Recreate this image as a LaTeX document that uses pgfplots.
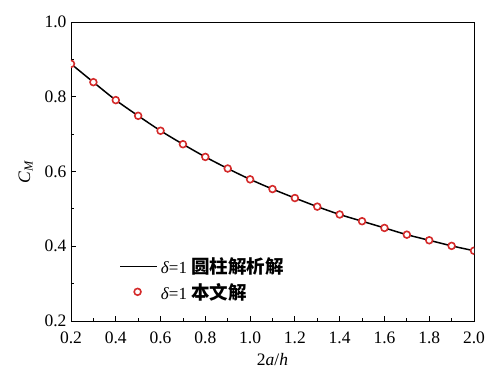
\documentclass[border=0pt]{standalone}
\usepackage{fontspec}
\setmainfont{Liberation Serif}
\newfontfamily\cjk{Noto Sans CJK SC}
\usepackage{pgfplots}
\pgfplotsset{compat=1.18}
\definecolor{mkred}{HTML}{D42A2A}
\begin{document}
\begin{tikzpicture}
\begin{axis}[
  at={(0,0)}, anchor=south west,
  scale only axis, width=403pt, height=299pt,
  xmin=0.2, xmax=2.0, ymin=0.2, ymax=1.0,
  xtick={0.2,0.4,...,2.01}, ytick={0.2,0.4,...,1.01},
  minor xtick={0.3,0.5,...,1.91}, minor ytick={0.3,0.5,0.7,0.9},
  xticklabel style={yshift=-7pt,/pgf/number format/.cd,fixed,fixed zerofill,precision=1},
  yticklabel style={xshift=-1pt,/pgf/number format/.cd,fixed,fixed zerofill,precision=1},
  /pgf/number format/assume math mode=true,
  tick align=inside, xtick pos=bottom, ytick pos=left,
  major tick length=5pt, minor tick length=3pt,
  axis line style={line width=0.8pt}, tick style={line width=0.8pt,black},
  ticklabel style={font=\fontsize{17.5}{20}\selectfont},
  xlabel={2\textit{a}/\textit{h}}, ylabel={\textit{C}\textsubscript{\textit{M}}},
  label style={font=\fontsize{17.5}{20}\selectfont},
  xlabel style={yshift=-3pt}, ylabel style={yshift=5pt},
  legend style={draw=none, fill=none, at={(0.112,0.14)}, anchor=west,
    font=\fontsize{17}{20}\selectfont, row sep=4pt,
    nodes={inner xsep=3pt}},
  legend cell align=left,
]
\addplot[black, line width=1.5pt, smooth, legend image code/.code={\draw[black,line width=1.5pt] (0pt,0pt) -- (37pt,0pt);}] coordinates {
(0.2,0.888) (0.3,0.839) (0.4,0.791) (0.5,0.749) (0.6,0.709) (0.7,0.673)
(0.8,0.639) (0.9,0.608) (1.0,0.579) (1.1,0.553) (1.2,0.529) (1.3,0.506)
(1.4,0.485) (1.5,0.467) (1.6,0.449) (1.7,0.431) (1.8,0.416) (1.9,0.401) (2.0,0.388)};
\addlegendentry{\textit{δ}=1 {\cjk\bfseries\fontsize{18.5}{20}\selectfont 圆柱解析解}}
\addplot[only marks, mark=*, mark size=3.4pt, mark options={draw=mkred, fill=white, line width=1.6pt}, clip mode=individual,
  legend image code/.code={\draw[mkred,fill=white,line width=1.6pt] (17.5pt,0pt) circle (3.4pt);}] coordinates {
(0.2,0.888) (0.3,0.839) (0.4,0.791) (0.5,0.749) (0.6,0.709) (0.7,0.673)
(0.8,0.639) (0.9,0.608) (1.0,0.579) (1.1,0.553) (1.2,0.529) (1.3,0.506)
(1.4,0.485) (1.5,0.467) (1.6,0.449) (1.7,0.431) (1.8,0.416) (1.9,0.401) (2.0,0.388)};
\addlegendentry{\textit{δ}=1 {\cjk\bfseries\fontsize{18.5}{20}\selectfont 本文解}}
\end{axis}
\pgfresetboundingbox
\path[use as bounding box] (-71pt,-54pt) rectangle (422pt,321pt);
\end{tikzpicture}
\end{document}
